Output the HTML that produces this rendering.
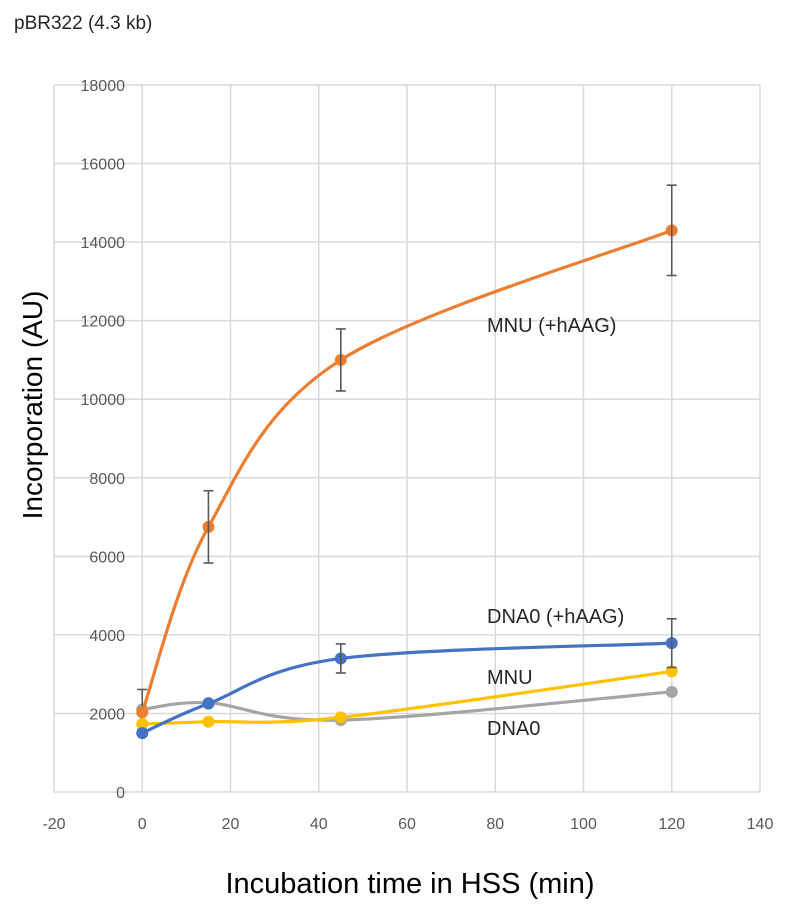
<!DOCTYPE html>
<html><head><meta charset="utf-8"><style>
html,body{margin:0;padding:0;background:#fff;}
svg{display:block;font-family:"Liberation Sans",sans-serif;}
</style></head><body>
<svg id="chart" width="786" height="922" viewBox="0 0 786 922">
<text x="14" y="29" font-size="19" fill="#262626">pBR322 (4.3 kb)</text>
<g id="grid"></g>
<g id="ticks"></g>
<g id="series"></g>
<text transform="translate(42,405) rotate(-90)" text-anchor="middle" font-size="28" fill="#000">Incorporation (AU)</text>
<text x="410" y="893" text-anchor="middle" font-size="29" fill="#000">Incubation time in HSS (min)</text>
</svg>
<script>
const xTicks=[-20,0,20,40,60,80,100,120,140];
const yTicks=[0,2000,4000,6000,8000,10000,12000,14000,16000,18000];
const times=[0,15,45,120];
const mnuHaag=[2030,6750,11000,14300];
const mnuHaagErr=[0,920,790,1150];
const dna0Haag=[1500,2250,3400,3790];
const dna0HaagErr=[0,0,370,620];
const mnu=[1730,1790,1900,3070];
const dna0=[2100,2270,1830,2550];
const dna0Err=[510,0,0,0];
const seriesNames=["mnu-haag","dna0-haag","mnu","dna0"];
const seriesColors=["#ED7D31","#4472C4","#FFC000","#A5A5A5"];
const labels=[["MNU (+hAAG)",487,332],["DNA0 (+hAAG)",487,623],["MNU",487,684],["DNA0",487,735]];
const NS="http://www.w3.org/2000/svg";
const X0=54,X1=760,Y0=792,Y1=85;
const xs=v=>X0+(v+20)/160*(X1-X0);
const ys=v=>Y0-v/18000*(Y0-Y1);
function mk(t,a,p){const e=document.createElementNS(NS,t);for(const k in a)e.setAttribute(k,a[k]);p.appendChild(e);return e;}
const grid=document.getElementById('grid'),ticks=document.getElementById('ticks'),ser=document.getElementById('series');
xTicks.forEach(v=>{
 const l=mk('line',{x1:xs(v),x2:xs(v),y1:Y1,y2:Y0,stroke:'#d9d9d9','stroke-width':1.5},grid);
 
 
 const t=mk('text',{x:xs(v),y:829,'text-anchor':'middle','font-size':16,fill:'#595959'},ticks);
 t.textContent=v;
 
 
});
yTicks.forEach(v=>{
 const l=mk('line',{x1:X0,x2:X1,y1:ys(v),y2:ys(v),stroke:'#d9d9d9','stroke-width':1.5},grid);
 
 
 const t=mk('text',{x:125,y:ys(v)+6,'text-anchor':'end','font-size':16,fill:'#595959'},ticks);
 t.textContent=v;
 
 
});
function smooth(pts){
 let d=`M${pts[0][0]},${pts[0][1]}`;
 for(let i=0;i<pts.length-1;i++){
  const p0=pts[i-1]||pts[i],p1=pts[i],p2=pts[i+1],p3=pts[i+2]||p2;
  const c1=[p1[0]+(p2[0]-p0[0])/6,p1[1]+(p2[1]-p0[1])/6];
  const c2=[p2[0]-(p3[0]-p1[0])/6,p2[1]-(p3[1]-p1[1])/6];
  d+=` C${c1[0]},${c1[1]} ${c2[0]},${c2[1]} ${p2[0]},${p2[1]}`;
 }
 return d;
}
const data=[mnuHaag,dna0Haag,mnu,dna0];
const errs=[mnuHaagErr,dna0HaagErr,null,dna0Err];
[3,2,1,0].forEach(s=>{
 const vals=data[s];
 const pts=times.map((t,i)=>[xs(t),ys(vals[i])]);
 const g=mk('g',{},ser);
 
 
 const p=mk('path',{d:smooth(pts),fill:'none',stroke:seriesColors[s],'stroke-width':3.2},g);
 
 
 pts.forEach((pt,i)=>{
  const c=mk('circle',{cx:pt[0],cy:pt[1],r:6,fill:seriesColors[s]},g);
  
  
  if(errs[s]&&errs[s][i]>0){
   const e=errs[s][i],x=pt[0],yt=ys(vals[i]+e),yb=ys(vals[i]-e);
   const eg=mk('g',{stroke:'#595959','stroke-width':1.6},g);
   
   
   mk('line',{x1:x,x2:x,y1:yt,y2:yb},eg);
   mk('line',{x1:x-5,x2:x+5,y1:yt,y2:yt},eg);
   mk('line',{x1:x-5,x2:x+5,y1:yb,y2:yb},eg);
  }
 });
});
labels.forEach((l,i)=>{
 const t=mk('text',{x:l[1],y:l[2],'font-size':20,fill:'#262626'},ser);
 t.textContent=l[0];
 
 
});
</script>
</body></html>
